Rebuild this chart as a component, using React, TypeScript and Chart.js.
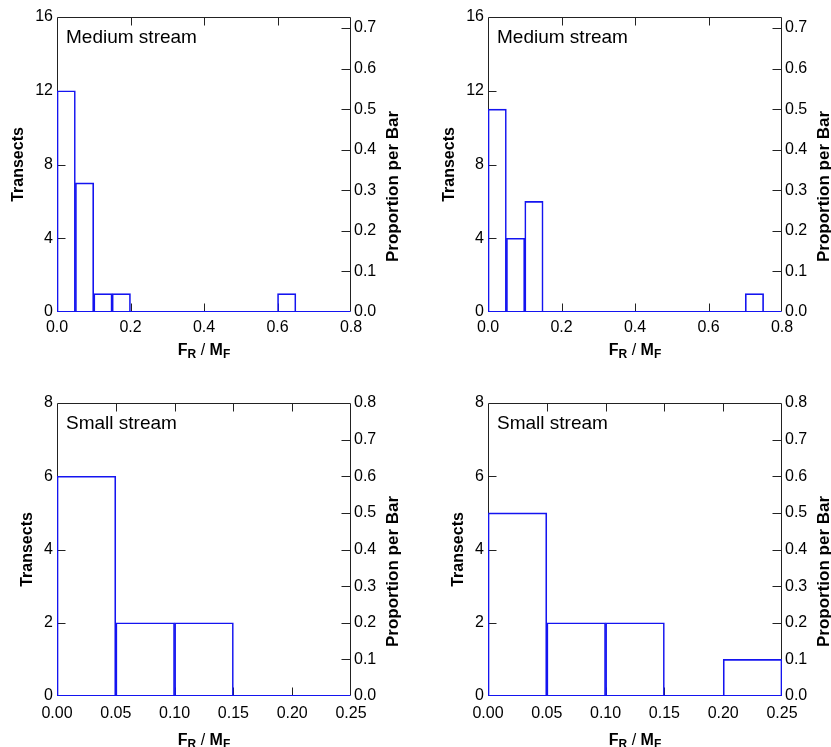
import React, { useEffect, useRef } from 'react';
import { Chart, registerables } from 'chart.js';

Chart.register(...registerables);

// ---------- data ----------
const BIN_WIDTH = 0.05;

const MEDIUM_BIN_STARTS = [0, 0.05, 0.1, 0.15, 0.2, 0.25, 0.3, 0.35, 0.4, 0.45, 0.5, 0.55, 0.6, 0.65, 0.7, 0.75];
const MEDIUM_LEFT_COUNTS = [12, 7, 1, 1, 0, 0, 0, 0, 0, 0, 0, 0, 1, 0, 0, 0];
const MEDIUM_RIGHT_COUNTS = [11, 4, 6, 0, 0, 0, 0, 0, 0, 0, 0, 0, 0, 0, 1, 0];

const SMALL_BIN_STARTS = [0, 0.05, 0.1, 0.15, 0.2];
const SMALL_LEFT_COUNTS = [6, 2, 2, 0, 0];
const SMALL_RIGHT_COUNTS = [5, 2, 2, 0, 1];

const MEDIUM_X_TICKS = [0, 0.2, 0.4, 0.6, 0.8];
const SMALL_X_TICKS = [0, 0.05, 0.1, 0.15, 0.2, 0.25];
const MEDIUM_Y_TICKS = [0, 4, 8, 12, 16];
const SMALL_Y_TICKS = [0, 2, 4, 6, 8];
const MEDIUM_PROP_TICKS = [0, 0.1, 0.2, 0.3, 0.4, 0.5, 0.6, 0.7];
const SMALL_PROP_TICKS = [0, 0.1, 0.2, 0.3, 0.4, 0.5, 0.6, 0.7, 0.8];

const MEDIUM_LABEL = 'Medium stream';
const SMALL_LABEL = 'Small stream';
const LEFT_TITLE = 'Transects';
const RIGHT_TITLE = 'Proportion per Bar';
const X_TITLE_PARTS = [
  { text: 'F', sub: false, bold: true },
  { text: 'R', sub: true, bold: true },
  { text: ' / ', sub: false, bold: false },
  { text: 'M', sub: false, bold: true },
  { text: 'F', sub: true, bold: true },
];

// ---------- style ----------
const FONT = '"Liberation Sans", Arial, Helvetica, sans-serif';
const BAR_COLOR = '#1414f0';
const FRAME_COLOR = '#222';

type Panel = {
  label: string;
  starts: number[];
  counts: number[];
  xMax: number;
  xTicks: number[];
  xDec: number;
  yMax: number;
  yTicks: number[];
  pTicks: number[];
  box: { left: number; top: number; w: number; h: number };
  padTop: number;
  leftW: number;
  rightW: number;
  xH: number;
  xPad: number;
  xTitleOff: number;
};

const PANELS: Panel[] = [
  {
    label: MEDIUM_LABEL, starts: MEDIUM_BIN_STARTS, counts: MEDIUM_LEFT_COUNTS,
    xMax: 0.8, xTicks: MEDIUM_X_TICKS, xDec: 1, yMax: 16, yTicks: MEDIUM_Y_TICKS, pTicks: MEDIUM_PROP_TICKS,
    box: { left: 0, top: 0, w: 415, h: 370 }, padTop: 17, leftW: 57, rightW: 64, xH: 58, xPad: 6, xTitleOff: 37,
  },
  {
    label: MEDIUM_LABEL, starts: MEDIUM_BIN_STARTS, counts: MEDIUM_RIGHT_COUNTS,
    xMax: 0.8, xTicks: MEDIUM_X_TICKS, xDec: 1, yMax: 16, yTicks: MEDIUM_Y_TICKS, pTicks: MEDIUM_PROP_TICKS,
    box: { left: 430, top: 0, w: 401, h: 370 }, padTop: 17, leftW: 58, rightW: 49, xH: 58, xPad: 6, xTitleOff: 37,
  },
  {
    label: SMALL_LABEL, starts: SMALL_BIN_STARTS, counts: SMALL_LEFT_COUNTS,
    xMax: 0.25, xTicks: SMALL_X_TICKS, xDec: 2, yMax: 8, yTicks: SMALL_Y_TICKS, pTicks: SMALL_PROP_TICKS,
    box: { left: 0, top: 380, w: 415, h: 367 }, padTop: 23, leftW: 57, rightW: 64, xH: 51, xPad: 8, xTitleOff: 43,
  },
  {
    label: SMALL_LABEL, starts: SMALL_BIN_STARTS, counts: SMALL_RIGHT_COUNTS,
    xMax: 0.25, xTicks: SMALL_X_TICKS, xDec: 2, yMax: 8, yTicks: SMALL_Y_TICKS, pTicks: SMALL_PROP_TICKS,
    box: { left: 430, top: 380, w: 401, h: 367 }, padTop: 23, leftW: 58, rightW: 49, xH: 51, xPad: 8, xTitleOff: 43,
  },
];

const snap = (v: number) => Math.round(v) + 0.5;

const decorPlugin = {
  id: 'decor',
  beforeDatasetsDraw(chart: any, _args: any, opts: any) {
    const p: Panel = opts.panel;
    const { ctx, chartArea: a, scales } = chart;
    const L = snap(a.left), R = snap(a.right) - 1, T = snap(a.top), B = snap(a.bottom) - 1;
    const TL = 8;
    ctx.save();
    ctx.lineWidth = 1;
    // frame
    ctx.strokeStyle = FRAME_COLOR;
    ctx.beginPath();
    ctx.moveTo(L, B); ctx.lineTo(L, T); ctx.lineTo(R, T); ctx.lineTo(R, B);
    ctx.stroke();
    // inside ticks
    ctx.beginPath();
    p.xTicks.forEach((v) => {
      if (v <= 0 || v >= p.xMax - 1e-9) return;
      const x = snap(scales.x.getPixelForValue(v));
      ctx.moveTo(x, T); ctx.lineTo(x, T + TL);
      ctx.moveTo(x, B); ctx.lineTo(x, B - TL);
    });
    p.yTicks.forEach((v) => {
      if (v <= 0 || v >= p.yMax) return;
      const y = snap(scales.y.getPixelForValue(v));
      ctx.moveTo(L, y); ctx.lineTo(L + TL, y);
    });
    const pMax = scales.y2.max;
    p.pTicks.forEach((v) => {
      if (v <= 0 || v >= pMax - 1e-9) return;
      const y = snap(scales.y2.getPixelForValue(v));
      ctx.moveTo(R, y); ctx.lineTo(R - TL - 1, y);
    });
    ctx.stroke();
    ctx.restore();
  },
  afterDatasetsDraw(chart: any, _args: any, opts: any) {
    const p: Panel = opts.panel;
    const { ctx, chartArea: a } = chart;
    const L = snap(a.left), R = snap(a.right) - 1, B = snap(a.bottom) - 1;
    ctx.save();
    ctx.lineWidth = 1;
    // baseline (empty bins) in bar colour
    ctx.strokeStyle = BAR_COLOR;
    ctx.beginPath();
    ctx.moveTo(L, B); ctx.lineTo(R, B);
    ctx.stroke();

    // panel label
    ctx.fillStyle = '#000';
    ctx.font = `19px ${FONT}`;
    ctx.textAlign = 'left';
    ctx.textBaseline = 'alphabetic';
    ctx.fillText(p.label, a.left + 9, a.top + 26);

    // left title
    ctx.font = `16px ${FONT}`;
    const maxLbl = Math.max(...p.yTicks.map((v) => ctx.measureText(String(v)).width));
    const lx = a.left - 4 - maxLbl - 17;
    const cy = (a.top + a.bottom) / 2;
    ctx.font = `bold 16px ${FONT}`;
    ctx.textAlign = 'center';
    ctx.textBaseline = 'middle';
    ctx.save();
    ctx.translate(lx, cy);
    ctx.rotate(-Math.PI / 2);
    ctx.fillText(LEFT_TITLE, 0, 0);
    ctx.restore();

    // right title
    ctx.save();
    ctx.translate(a.right + 42, cy + 22);
    ctx.rotate(-Math.PI / 2);
    ctx.font = `bold 17px ${FONT}`;
    ctx.fillText(RIGHT_TITLE, 0, 0);
    ctx.restore();

    // x title with subscripts
    const parts = X_TITLE_PARTS.map((pt) => {
      const font = `${pt.bold ? 'bold ' : ''}${pt.sub ? 12 : 16}px ${FONT}`;
      ctx.font = font;
      return { ...pt, font, w: ctx.measureText(pt.text).width };
    });
    const total = parts.reduce((s, pt) => s + pt.w, 0);
    let x = (a.left + a.right) / 2 - total / 2;
    const base = a.bottom + p.xTitleOff + 6;
    ctx.textAlign = 'left';
    ctx.textBaseline = 'alphabetic';
    parts.forEach((pt) => {
      ctx.font = pt.font;
      ctx.fillText(pt.text, x, base + (pt.sub ? 3 : 0));
      x += pt.w;
    });
    ctx.restore();
  },
};

const noGrid = { display: false, drawTicks: false, tickLength: 0 };

function HistPanel({ panel }: { panel: Panel }) {
  const ref = useRef<HTMLCanvasElement | null>(null);
  useEffect(() => {
    if (!ref.current) return;
    const total = panel.counts.reduce((s, c) => s + c, 0);
    const chart = new Chart(ref.current, {
      type: 'bar',
      data: {
        datasets: [
          {
            data: panel.starts.map((s, i) => ({ x: s + BIN_WIDTH / 2, y: panel.counts[i] })),
            borderColor: BAR_COLOR,
            backgroundColor: 'rgba(0,0,0,0)',
            borderWidth: 1,
            borderSkipped: 'start',
            barPercentage: 1,
            categoryPercentage: 1,
            yAxisID: 'y',
          } as any,
        ],
      },
      plugins: [decorPlugin as any],
      options: {
        responsive: false,
        animation: false,
        devicePixelRatio: 1,
        layout: { padding: { top: panel.padTop, left: 0, right: 0, bottom: 0 } },
        plugins: {
          legend: { display: false },
          tooltip: { enabled: false },
          decor: { panel },
        } as any,
        scales: {
          x: {
            type: 'linear',
            min: 0,
            max: panel.xMax,
            offset: false,
            grid: noGrid,
            border: { display: false },
            afterBuildTicks: (s: any) => { s.ticks = panel.xTicks.map((v) => ({ value: v })); },
            afterFit: (s: any) => { s.height = panel.xH; },
            ticks: {
              padding: panel.xPad,
              maxRotation: 0,
              autoSkip: false,
              color: '#000',
              font: { family: FONT, size: 16 },
              callback: (v: any) => Number(v).toFixed(panel.xDec),
            },
          },
          y: {
            type: 'linear',
            position: 'left',
            min: 0,
            max: panel.yMax,
            grid: noGrid,
            border: { display: false },
            afterBuildTicks: (s: any) => { s.ticks = panel.yTicks.map((v) => ({ value: v })); },
            afterFit: (s: any) => { s.width = panel.leftW; },
            ticks: {
              padding: 4,
              color: '#000',
              font: { family: FONT, size: 16 },
              callback: (v: any) => String(v),
            },
          },
          y2: {
            type: 'linear',
            position: 'right',
            min: 0,
            max: panel.yMax / total,
            grid: noGrid,
            border: { display: false },
            afterBuildTicks: (s: any) => { s.ticks = panel.pTicks.map((v) => ({ value: v })); },
            afterFit: (s: any) => { s.width = panel.rightW; },
            ticks: {
              padding: 3,
              color: '#000',
              font: { family: FONT, size: 16 },
              callback: (v: any) => Number(v).toFixed(1),
            },
          },
        },
      } as any,
    });
    return () => chart.destroy();
  }, [panel]);
  const { left, top, w, h } = panel.box;
  return (
    <div style={{ position: 'absolute', left, top, width: w, height: h }}>
      <canvas ref={ref} width={w} height={h} style={{ width: w, height: h, display: 'block' }} />
    </div>
  );
}

export default function App() {
  return (
    <div style={{ position: 'absolute', left: 0, top: 0, width: 831, height: 747, background: '#fff', overflow: 'hidden' }}>
      {PANELS.map((p, i) => (
        <HistPanel key={i} panel={p} />
      ))}
    </div>
  );
}
